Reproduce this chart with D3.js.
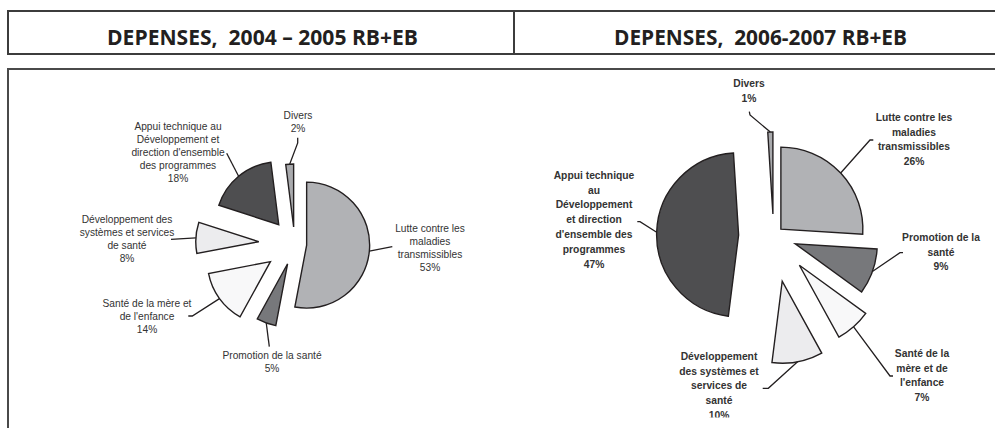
<!DOCTYPE html>
<html><head><meta charset="utf-8">
<script src="https://cdn.jsdelivr.net/npm/d3@7"></script>
<style>
html,body{margin:0;padding:0;background:#fff;}
svg{display:block;}
</style></head>
<body>
<svg id="chart" width="995" height="428"></svg>
<script>
// ---- DATA ----
const categories = [
  "Lutte contre les maladies transmissibles",
  "Promotion de la santé",
  "Santé de la mère et de l'enfance",
  "Développement des systèmes et services de santé",
  "Appui technique au Développement et direction d'ensemble des programmes",
  "Divers"
];
const values2004 = [53, 5, 14, 8, 18, 2];
const values2006 = [26, 9, 7, 10, 47, 1];
const titles = ["DEPENSES,  2004 – 2005 RB+EB", "DEPENSES,  2006-2007 RB+EB"];

// ---- STYLE / LAYOUT ----
const fills = ["#b1b2b5", "#77787b", "#f8f8f9", "#ececee", "#4e4e50", "#a9aaad"];

const charts = [
  {
    values: values2004, cx: 294.7, cy: 244, r: 63,
    explode: [12, 21, 30, 36, 25, 17],
    font: {size: 10.2, weight: "normal", lh: 13},
    labels: [
      {x: 430, y: 228, lines: ["Lutte contre les", "maladies", "transmissibles"], leader: [[392.3, 246.7]]},
      {x: 272, y: 355, lines: ["Promotion de la santé"], leader: [[269.3, 346.7]]},
      {x: 147, y: 303, lines: ["Santé de la mère et", "de l'enfance"], leader: [[192.3, 316], [188.3, 316]]},
      {x: 127, y: 219, lines: ["Développement des", "systèmes et services", "de santé"], leader: [[171, 239.3]]},
      {x: 178, y: 126, lines: ["Appui technique au", "Développement et", "direction d'ensemble", "des programmes"], leader: [[226.7, 153.3]]},
      {x: 298, y: 115, lines: ["Divers"], leader: [[297.7, 143], [297.7, 137.7]]}
    ]
  },
  {
    values: values2006, cx: 773.6, cy: 236, r: 82,
    explode: [10, 23, 39, 46, 35, 22],
    font: {size: 10.3, weight: "bold", lh: 14.8},
    labels: [
      {x: 914, y: 117, lines: ["Lutte contre les", "maladies", "transmissibles"], leader: [[870, 140], [873.3, 140]]},
      {x: 941, y: 237, lines: ["Promotion de la", "santé"], leader: [[900, 252.7], [903, 252.7]]},
      {x: 922, y: 353, lines: ["Santé de la", "mère et de", "l'enfance"], leader: [[890, 376], [893, 376]]},
      {x: 719, y: 356, lines: ["Développement", "des systèmes et", "services de", "santé"], leader: [[768.3, 388.3], [762.7, 388.3]]},
      {x: 594, y: 175, lines: ["Appui technique", "au", "Développement", "et direction", "d'ensemble des", "programmes"], leader: [[640, 221.7], [637.3, 221.7]]},
      {x: 749, y: 83, lines: ["Divers"], leader: [[750, 115], [749.3, 111.7]]}
    ]
  }
];

const svg = d3.select("#chart");
const ink = "#231f20";

// Header box
svg.append("rect").attr("x", 8).attr("y", 11).attr("width", 1000).attr("height", 43)
  .attr("fill", "none").attr("stroke", "#3c3c3c").attr("stroke-width", 2);
svg.append("line").attr("x1", 514).attr("x2", 514).attr("y1", 11).attr("y2", 54)
  .attr("stroke", "#3c3c3c").attr("stroke-width", 2);
// Chart box
svg.append("rect").attr("x", 8).attr("y", 69).attr("width", 1000).attr("height", 400)
  .attr("fill", "none").attr("stroke", "#4a4a4a").attr("stroke-width", 2);

// Titles
const titleSpans = [[107, 418], [614, 907]];
titles.forEach((t, i) => {
  const [a, b] = titleSpans[i];
  svg.append("text")
    .attr("x", a).attr("y", 45)
    .attr("textLength", b - a).attr("lengthAdjust", "spacingAndGlyphs")
    .style("white-space", "pre")
    .attr("font-family", "'Open Sans', 'Liberation Sans', sans-serif")
    .attr("font-weight", "bold").attr("font-size", 22)
    .attr("fill", ink).text(t);
});

// Clip for chart content
svg.append("defs").append("clipPath").attr("id", "cbox")
  .append("rect").attr("x", 9).attr("y", 70).attr("width", 990).attr("height", 347.5);

const content = svg.append("g").attr("clip-path", "url(#cbox)");

charts.forEach(ch => {
  const pie = d3.pie().sort(null).value(d => d).startAngle(0).endAngle(2 * Math.PI);
  const arcs = pie(ch.values);
  const arcGen = d3.arc().innerRadius(0).outerRadius(ch.r);
  const g = content.append("g").attr("transform", `translate(${ch.cx},${ch.cy})`);

  arcs.forEach((a, i) => {
    const mid = (a.startAngle + a.endAngle) / 2;
    const e = ch.explode[i];
    const ox = Math.sin(mid) * e, oy = -Math.cos(mid) * e;
    g.append("path")
      .attr("d", arcGen(a))
      .attr("transform", `translate(${ox},${oy})`)
      .attr("fill", fills[i]).attr("stroke", ink)
      .attr("stroke-width", 1.4).attr("stroke-linejoin", "miter");

    // leader line from arc midpoint
    const lab = ch.labels[i];
    const px = ch.cx + ox + Math.sin(mid) * ch.r;
    const py = ch.cy + oy - Math.cos(mid) * ch.r;
    const pts = [[px, py]].concat(lab.leader);
    content.append("path")
      .attr("d", d3.line()(pts))
      .attr("fill", "none").attr("stroke", ink).attr("stroke-width", 1.3);

    // label
    const lines = lab.lines.concat([ch.values[i] + "%"]);
    const txt = content.append("text")
      .attr("font-family", "'Liberation Sans', Arial, sans-serif")
      .attr("font-size", ch.font.size).attr("font-weight", ch.font.weight)
      .attr("fill", "#333").attr("text-anchor", "middle");
    lines.forEach((l, k) => {
      txt.append("tspan").attr("x", lab.x)
        .attr("y", lab.y + k * ch.font.lh + ch.font.size * 0.36)
        .text(l);
    });
  });
});
</script>
</body></html>
